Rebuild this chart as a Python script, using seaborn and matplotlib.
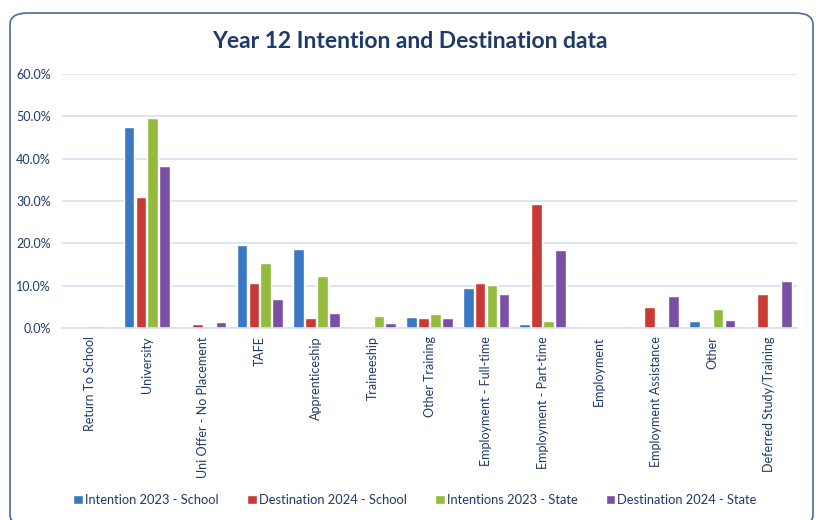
import matplotlib
matplotlib.use("Agg")
import matplotlib.pyplot as plt
import seaborn as sns
import pandas as pd
from matplotlib.patches import FancyBboxPatch
from matplotlib.ticker import PercentFormatter

categories = ["Return To School", "University", "Uni Offer - No Placement", "TAFE",
              "Apprenticeship", "Traineeship", "Other Training", "Employment - Full-time",
              "Employment - Part-time", "Employment", "Employment Assistance", "Other",
              "Deferred Study/Training"]
series = ["Intention 2023 - School", "Destination 2024 - School",
          "Intentions 2023 - State", "Destination 2024 - State"]
intention_school = [0.0, 47.5, 0.0, 19.6, 18.7, 0.0, 2.6, 9.4, 0.9, 0.0, 0.0, 1.6, 0.0]
destination_school = [0.0, 31.0, 1.0, 10.6, 2.4, 0.0, 2.4, 10.6, 29.3, 0.0, 5.0, 0.0, 8.0]
intentions_state = [0.5, 49.6, 0.0, 15.4, 12.3, 2.8, 3.3, 10.2, 1.6, 0.0, 0.0, 4.5, 0.0]
destination_state = [0.3, 38.3, 1.4, 6.9, 3.5, 1.2, 2.4, 8.0, 18.4, 0.0, 7.6, 1.9, 11.1]

colors = ["#3A78C3", "#C93A36", "#95BB3E", "#7A50A4"]
navy = "#1F3A68"

rows = []
for s, vals in zip(series, [intention_school, destination_school, intentions_state, destination_state]):
    for c, v in zip(categories, vals):
        rows.append({"Category": c, "Series": s, "Value": v / 100})
df = pd.DataFrame(rows)

sns.set_theme(style="white")
plt.rcParams["font.family"] = ["Lato", "DejaVu Sans"]

fig = plt.figure(figsize=(8.19, 5.20), dpi=100)
frame = FancyBboxPatch((10 / 819, -6 / 520), 803 / 819, 513 / 520,
                       boxstyle="round,pad=0,rounding_size=0.022",
                       transform=fig.transFigure, fill=False,
                       edgecolor="#4A6A9C", linewidth=1.2)
fig.patches.append(frame)

ax = fig.add_axes([62 / 819, 1 - 328 / 520, 735 / 819, 254 / 520])
sns.barplot(data=df, x="Category", y="Value", hue="Series", order=categories,
            hue_order=series, palette=colors, width=0.84, gap=0.1,
            saturation=1, ax=ax, legend=True)

ax.set_ylim(0, 0.6)
ax.set_xlim(-0.5, len(categories) - 0.5)
ax.set_yticks([0, 0.1, 0.2, 0.3, 0.4, 0.5, 0.6])
ax.yaxis.set_major_formatter(PercentFormatter(1.0, decimals=1))
ax.grid(axis="y", color="#D6E0EE", linewidth=1.2)
ax.set_axisbelow(True)
for sp in ["top", "right", "left"]:
    ax.spines[sp].set_visible(False)
ax.spines["bottom"].set_color("#D6E0EE")
ax.spines["bottom"].set_linewidth(1.2)
ax.set_xlabel("")
ax.set_ylabel("")
ax.tick_params(axis="y", labelsize=9, colors=navy, length=0, pad=8)
ax.tick_params(axis="x", labelsize=9, colors=navy, length=0, pad=6)
for lbl in ax.get_xticklabels():
    lbl.set_rotation(90)
    lbl.set_va("top")
    lbl.set_ha("center")

ax.legend_.remove()
handles, labels = ax.get_legend_handles_labels()
fig.legend(handles, labels, loc="center", bbox_to_anchor=(415 / 819, 1 - 500 / 520),
           ncol=4, frameon=False, fontsize=9.3, handlelength=0.75, handleheight=0.75,
           handletextpad=0.15, columnspacing=2.2, labelcolor=navy)

fig.text(0.5, 1 - 42 / 520, "Year 12 Intention and Destination data", ha="center",
         va="center", fontsize=16.5, fontweight="bold", color=navy)

fig.savefig("out.png", dpi=100)
